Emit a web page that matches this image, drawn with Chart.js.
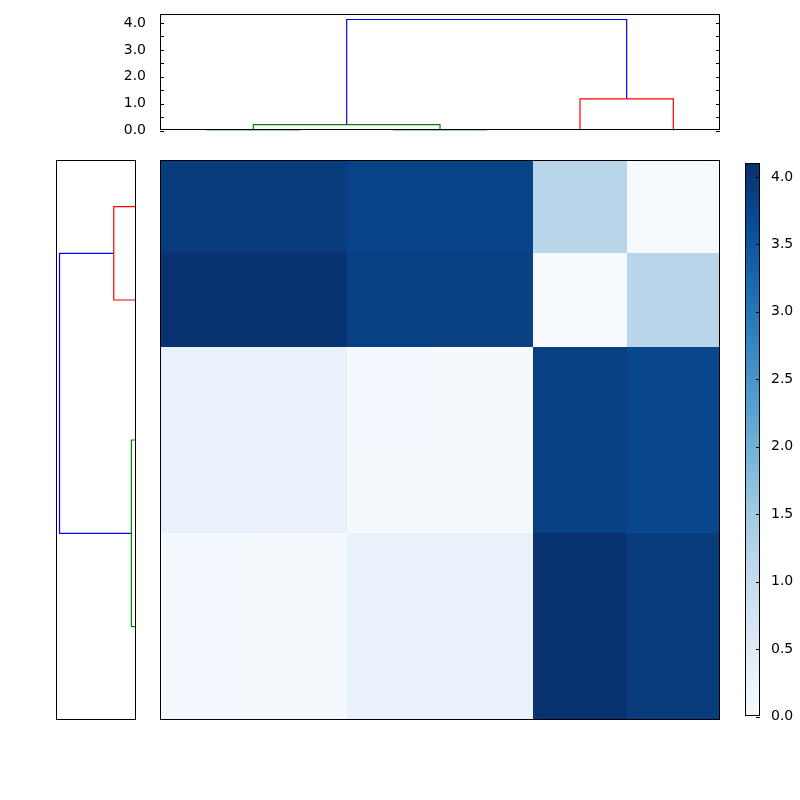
<!DOCTYPE html>
<html>
<head>
<meta charset="utf-8">
<script src="https://cdn.jsdelivr.net/npm/chart.js@4"></script>
<style>
  body { margin: 0; background: #fff; }
  #wrap { position: relative; width: 800px; height: 800px; }
  canvas { position: absolute; }
</style>
</head>
<body>
<div id="wrap">
  <canvas id="topDendro" width="730" height="145" style="left:0;top:0"></canvas>
  <canvas id="leftDendro" width="80" height="560" style="left:56;top:160px;left:56px"></canvas>
  <canvas id="heat" width="560" height="560" style="left:160px;top:160px"></canvas>
  <canvas id="cbar" width="55" height="576" style="left:745px;top:152px"></canvas>
</div>
<script>
(function () {
    "use strict";

    // dendrogram links, scipy style: icoord (leaf axis) / dcoord (height)
    const topIcoord = [[5, 5, 15, 15], [25, 25, 35, 35], [10, 10, 30, 30], [45, 45, 55, 55], [20, 20, 50, 50]];
    const topDcoord = [[0, 0.02, 0.02, 0], [0, 0.02, 0.02, 0], [0.02, 0.22, 0.22, 0.02], [0, 1.18, 1.18, 0], [0.22, 4.13, 4.13, 1.18]];
    const topColors = ["g", "g", "g", "r", "b"];

    const leftIcoord = [[5, 5, 15, 15], [25, 25, 35, 35], [45, 45, 55, 55], [30, 30, 50, 50], [10, 10, 40, 40]];
    const leftDcoord = [[0, 1.2, 1.2, 0], [0, 0.02, 0.02, 0], [0, 0.02, 0.02, 0], [0.02, 0.25, 0.25, 0.02], [1.2, 4.13, 4.13, 0.25]];
    const leftColors = ["r", "g", "g", "g", "b"];

    const heatValues = [
        [3.92, 3.92, 3.80, 3.80, 1.20, 0.03],
        [4.05, 4.05, 3.85, 3.85, 0.03, 1.20],
        [0.28, 0.28, 0.08, 0.05, 3.85, 3.75],
        [0.28, 0.28, 0.05, 0.05, 3.85, 3.75],
        [0.08, 0.05, 0.28, 0.28, 4.05, 3.92],
        [0.08, 0.05, 0.28, 0.28, 4.05, 3.92]
    ];

    const dendroTicks = [0, 0.5, 1, 1.5, 2, 2.5, 3, 3.5, 4];
    const cbarTicks   = [0, 0.5, 1, 1.5, 2, 2.5, 3, 3.5, 4];
    const vmax = 4.1;

    const colorMap = { b: "#0000ff", g: "#008000", r: "#ff0000" };
    const blues = ["#f7fbff", "#deebf7", "#c6dbef", "#9ecae1", "#6baed6", "#4292c6", "#2171b5", "#08519c", "#08306b"];
    const FONT = { family: "'DejaVu Sans', sans-serif", size: 14 };

    function hexRgb(h) {
        return [parseInt(h.slice(1, 3), 16), parseInt(h.slice(3, 5), 16), parseInt(h.slice(5, 7), 16)];
    }

    function bluesAt(t) {
        t = Math.max(0, Math.min(1, t));
        const p = t * (blues.length - 1);
        const i = Math.min(blues.length - 2, Math.floor(p));
        const f = p - i;
        const a = hexRgb(blues[i]), b = hexRgb(blues[i + 1]);
        const c = a.map((v, k) => Math.round(v + (b[k] - v) * f));
        return `rgb(${c[0]},${c[1]},${c[2]})`;
    }

    // frame + inward tick marks
    function framePlugin(tickSides, tickVals) {
        return {
            id: "frame",
            afterDraw(chart) {
                const { ctx, chartArea: a } = chart;
                ctx.save();
                ctx.strokeStyle = "#000";
                ctx.lineWidth = 1;
                ctx.strokeRect(Math.round(a.left) + 0.5, Math.round(a.top) + 0.5,
                    Math.round(a.right - a.left) - 1, Math.round(a.bottom - a.top) - 1);
                if (tickVals) {
                    const ys = chart.scales.y;
                    tickVals.forEach(v => {
                        const y = Math.round(ys.getPixelForValue(v)) + 0.5;
                        ctx.beginPath();
                        if (tickSides.includes("left")) { ctx.moveTo(a.left, y); ctx.lineTo(a.left + 4, y); }
                        if (tickSides.includes("right")) { ctx.moveTo(a.right, y); ctx.lineTo(a.right - 4, y); }
                        ctx.stroke();
                    });
                }
                ctx.restore();
            }
        };
    }

    function linkDatasets(icoord, dcoord, colors, horizontal) {
        return icoord.map((ic, i) => ({
            data: ic.map((v, k) => horizontal ? { x: dcoord[i][k], y: v } : { x: v, y: dcoord[i][k] }),
            showLine: true,
            borderColor: colorMap[colors[i]],
            borderWidth: 1.2,
            pointRadius: 0,
            tension: 0
        }));
    }

    const base = {
        responsive: false,
        animation: false,
        plugins: { legend: { display: false }, tooltip: { enabled: false } }
    };

    function renderTop() {
        new Chart(document.getElementById("topDendro"), {
            type: "scatter",
            data: { datasets: linkDatasets(topIcoord, topDcoord, topColors, false) },
            options: {
                ...base,
                layout: { padding: { top: 0, right: 10, bottom: 10, left: 0 } },
                scales: {
                    x: { type: "linear", min: 0, max: 60, display: false },
                    y: {
                        type: "linear", min: 0, max: 4.32,
                        afterBuildTicks: s => { s.ticks = dendroTicks.map(v => ({ value: v })); },
                        afterFit: s => { s.width = 160; },
                        grid: { display: false },
                        border: { display: false },
                        ticks: { color: "#000", font: FONT, padding: 6, callback: v => v.toFixed(1) }
                    }
                }
            },
            plugins: [framePlugin(["left", "right"], dendroTicks)]
        });
    }

    function renderLeft() {
        new Chart(document.getElementById("leftDendro"), {
            type: "scatter",
            data: { datasets: linkDatasets(leftIcoord, leftDcoord, leftColors, true) },
            options: {
                ...base,
                layout: { padding: 0 },
                scales: {
                    x: { type: "linear", min: 0, max: 4.32, reverse: true, display: false },
                    y: { type: "linear", min: 0, max: 60, reverse: true, display: false }
                }
            },
            plugins: [framePlugin([], null)]
        });
    }

    function renderHeat() {
        const cells = {
            id: "cells",
            beforeDatasetsDraw(chart) {
                const { ctx, scales: { x, y } } = chart;
                heatValues.forEach((row, r) => row.forEach((v, c) => {
                    const x0 = x.getPixelForValue(c), x1 = x.getPixelForValue(c + 1);
                    const y0 = y.getPixelForValue(r), y1 = y.getPixelForValue(r + 1);
                    ctx.fillStyle = bluesAt(v / vmax);
                    ctx.fillRect(Math.round(x0), Math.round(y0), Math.round(x1) - Math.round(x0), Math.round(y1) - Math.round(y0));
                }));
            }
        };
        new Chart(document.getElementById("heat"), {
            type: "scatter",
            data: { datasets: [{ data: [] }] },
            options: {
                ...base,
                layout: { padding: 0 },
                scales: {
                    x: { type: "linear", min: 0, max: 6, display: false },
                    y: { type: "linear", min: 0, max: 6, reverse: true, display: false }
                }
            },
            plugins: [cells, framePlugin([], null)]
        });
    }

    function renderCbar() {
        const grad = {
            id: "grad",
            beforeDatasetsDraw(chart) {
                const { ctx, chartArea: a } = chart;
                const g = ctx.createLinearGradient(0, a.bottom, 0, a.top);
                blues.forEach((c, i) => g.addColorStop(i / (blues.length - 1), c));
                ctx.fillStyle = g;
                ctx.fillRect(a.left, a.top, a.right - a.left, a.bottom - a.top);
            }
        };
        new Chart(document.getElementById("cbar"), {
            type: "scatter",
            data: { datasets: [{ data: [] }] },
            options: {
                ...base,
                layout: { padding: { top: 8, bottom: 8, left: 0, right: 0 } },
                scales: {
                    x: { type: "linear", min: 0, max: 1, display: false },
                    y: {
                        type: "linear", position: "right", min: 0, max: vmax,
                        afterBuildTicks: s => { s.ticks = cbarTicks.map(v => ({ value: v })); },
                        afterFit: s => { s.width = 40; },
                        grid: { display: false },
                        border: { display: false },
                        ticks: { color: "#000", font: FONT, padding: 3, callback: v => v.toFixed(1) }
                    }
                }
            },
            plugins: [grad, framePlugin(["right"], cbarTicks)]
        });
    }

    function init() {
        renderTop();
        renderLeft();
        renderHeat();
        renderCbar();
    }

    if (document.readyState === "loading") {
        document.addEventListener("DOMContentLoaded", init);
    } else {
        init();
    }
})();
</script>
</body>
</html>
